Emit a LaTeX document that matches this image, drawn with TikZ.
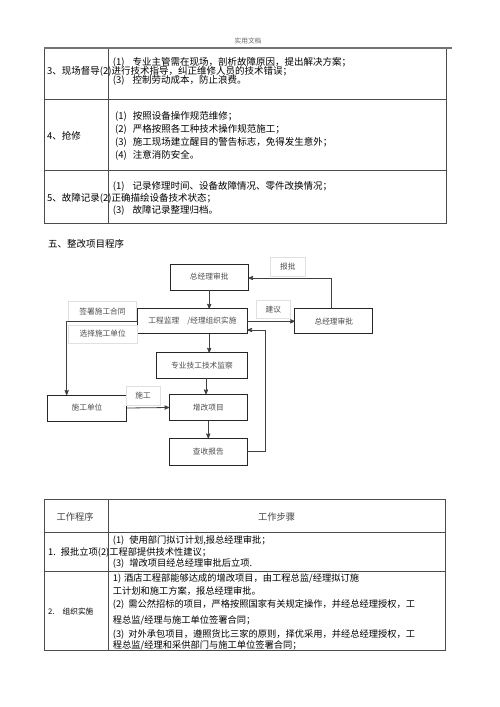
\documentclass[tikz,border=0pt]{standalone}
\usepackage{fontspec}
\setmainfont{Noto Sans CJK SC}
\usepackage{tikz}
\usetikzlibrary{positioning,arrows}

\begin{document}
\begin{tikzpicture}[x=1pt,y=-1pt,
		procbox/.style={rectangle, draw=black!85, line width=1pt, inner sep=0pt, outer sep=0pt, text=black!70, font=\fontsize{7.7}{9}\selectfont},
		tagbox/.style={rectangle, draw=black!12, line width=0.6pt, inner sep=0pt, outer sep=0pt, text=black!70, font=\fontsize{7.7}{9}\selectfont},
		rowtext/.style={anchor=west, inner sep=0pt, font=\fontsize{9.5}{11}\selectfont},
		steptext/.style={anchor=west, inner sep=0pt, font=\fontsize{9.25}{11}\selectfont},
		grid/.style={draw=black!70, line width=0.8pt},
		link/.style={draw=black!75, line width=0.8pt, ->, >=stealth', shorten >=0pt}
		]
		\useasboundingbox (0,0) rectangle (500,707);
		
		% Page header
		\node[inner sep=0pt, text=black!60, font=\fontsize{6.7}{8}\selectfont] (hdr) at (248,41) {实用文档};
		
		% Upper table
		\draw[grid] (44.3,48) rectangle (446.7,223.3);
		\draw[grid] (108.7,48) -- (108.7,223.3);
		\draw[grid] (44.3,99.3) -- (446.7,99.3);
		\draw[grid] (44.3,170.7) -- (446.7,170.7);
		\draw[draw=black!55, line width=1.5pt] (44.3,48) -- (452,48);
		
		\node[rowtext] (r1a) at (112.7,62) {(1)\hspace{8pt}专业主管需在现场，剖析故障原因，提出解决方案；};
		\node[rowtext] (r1b) at (47,71.3) {3、现场督导(2)进行技术指导，纠正维修人员的技术错误；};
		\node[rowtext] (r1c) at (112.7,80) {(3)\hspace{8pt}控制劳动成本，防止浪费。};
		
		\node[rowtext] (r2t) at (47,135.7) {4、抢修};
		\node[rowtext] (r2a) at (115,116) {(1)\hspace{6pt}按照设备操作规范维修；};
		\node[rowtext] (r2b) at (115,129.7) {(2)\hspace{6pt}严格按照各工种技术操作规范施工；};
		\node[rowtext] (r2c) at (115,142.7) {(3)\hspace{6pt}施工现场建立醒目的警告标志，免得发生意外；};
		\node[rowtext] (r2d) at (115,155) {(4)\hspace{6pt}注意消防安全。};
		
		\node[rowtext] (r3a) at (112.7,186) {(1)\hspace{8pt}记录修理时间、设备故障情况、零件改换情况；};
		\node[rowtext] (r3b) at (47,198.7) {5、故障记录(2)正确描绘设备技术状态；};
		\node[rowtext] (r3c) at (112.7,210) {(3)\hspace{8pt}故障记录整理归档。};
		
		\node[rowtext] (sec) at (48,244.3) {五、整改项目程序};
		
		% Flow nodes
		\node[procbox, minimum width=78.3pt, minimum height=26pt] (Approve) at (209.2,277) {总经理审批};
		\node[procbox, minimum width=109.6pt, minimum height=25.3pt] (Organize) at (192.5,321.3) {工程监理\hspace{8pt}/经理组织实施};
		\node[procbox, minimum width=77.7pt, minimum height=25.3pt] (Review) at (333.8,321.3) {总经理审批};
		\node[procbox, minimum width=90.6pt, minimum height=25.6pt] (Supervise) at (202,365.5) {专业技工技术监察};
		\node[procbox, minimum width=79.4pt, minimum height=26pt] (Contractor) at (87,408) {施工单位};
		\node[procbox, minimum width=78pt, minimum height=26.4pt] (Project) at (208.3,407.5) {增改项目};
		\node[procbox, minimum width=78pt, minimum height=26.7pt] (Report) at (208.3,451.7) {查收报告};
		
		% Edge tags
		\node[tagbox, minimum width=34.3pt, minimum height=19pt] (tagReport) at (287.8,266.5) {报批};
		\node[tagbox, minimum width=33.3pt, minimum height=18.3pt] (tagAdvise) at (273.3,309.2) {建议};
		\node[tagbox, minimum width=68.4pt, minimum height=19.3pt] (tagSign) at (102.5,311.3) {签署施工合同};
		\node[tagbox, minimum width=68.7pt, minimum height=18pt] (tagSelect) at (102.7,334) {选择施工单位};
		\node[tagbox, minimum width=34pt, minimum height=18.3pt] (tagBuild) at (143,395.8) {施工};
		
		% Bends
		\coordinate (upBend) at (331,278);
		\coordinate (leftBend) at (66.7,321.3);
		\coordinate (backBend) at (265.7,330);
		
		% Main paths
		\path[link] (Approve.south) -- (Approve.south |- Organize.north);
		\path[link] (Organize.east) -- (Review.west);
		\path[link] (Organize.south -| Approve.south) -- (Supervise.north -| Approve.south);
		\path[link] (Supervise.south -| 206,0) -- (Project.north -| 206,0);
		\path[link] (Project.south) -- (Report.north);
		\path[link] (Contractor.east) -- (Project.west);
		
		% Loops
		\path[link] (upBend |- Review.north) -- (upBend) -- (upBend -| Approve.east);
		\path[link] (Organize.west) -- (leftBend) -- (leftBend |- Contractor.north);
		\path[link] (Report.east) -| (backBend) -- (backBend -| Organize.east);
		
		% Lower table
		\draw[grid] (44,499.3) rectangle (445.7,650.7);
		\draw[grid] (108.3,499.3) -- (108.3,650.7);
		\draw[grid] (44,532.3) -- (445.7,532.3);
		\draw[grid] (44,571) -- (445.7,571);
		
		\node[inner sep=0pt, text=black!75, font=\fontsize{9.25}{11}\selectfont] (th1) at (75,516.7) {工作程序};
		\node[inner sep=0pt, text=black!75, font=\fontsize{9.25}{11}\selectfont] (th2) at (276.7,516.7) {工作步骤};
		
		\node[steptext] (s1a) at (112.7,540.3) {(1)\hspace{5pt}使用部门拟订计划,报总经理审批；};
		\node[steptext] (s1b) at (48,552.3) {1.\hspace{5pt}报批立项(2)工程部提供技术性建议；};
		\node[steptext] (s1c) at (112.7,563.7) {(3)\hspace{5pt}增改项目经总经理审批后立项.};
		
		\node[steptext, font=\fontsize{7.7}{9}\selectfont] (s2t) at (48,611.7) {2.\hspace{8pt}组织实施};
		\node[steptext] (s2a) at (112.7,578.7) {1)\hspace{3pt}酒店工程部能够达成的增改项目，由工程总监/经理拟订施};
		\node[steptext] (s2b) at (112.7,590.7) {工计划和施工方案，报总经理审批。};
		\node[steptext] (s2c) at (112.7,604.3) {(2)\hspace{4pt}需公然招标的项目，严格按照国家有关规定操作，并经总经理授权，工};
		\node[steptext] (s2d) at (112.7,620.7) {程总监/经理与施工单位签署合同；};
		\node[steptext] (s2e) at (112.7,634.3) {(3)\hspace{4pt}对外承包项目，遵照货比三家的原则，择优采用，并经总经理授权，工};
		\node[steptext] (s2f) at (112.7,645.7) {程总监/经理和采供部门与施工单位签署合同；};
	\end{tikzpicture}
\end{document}
